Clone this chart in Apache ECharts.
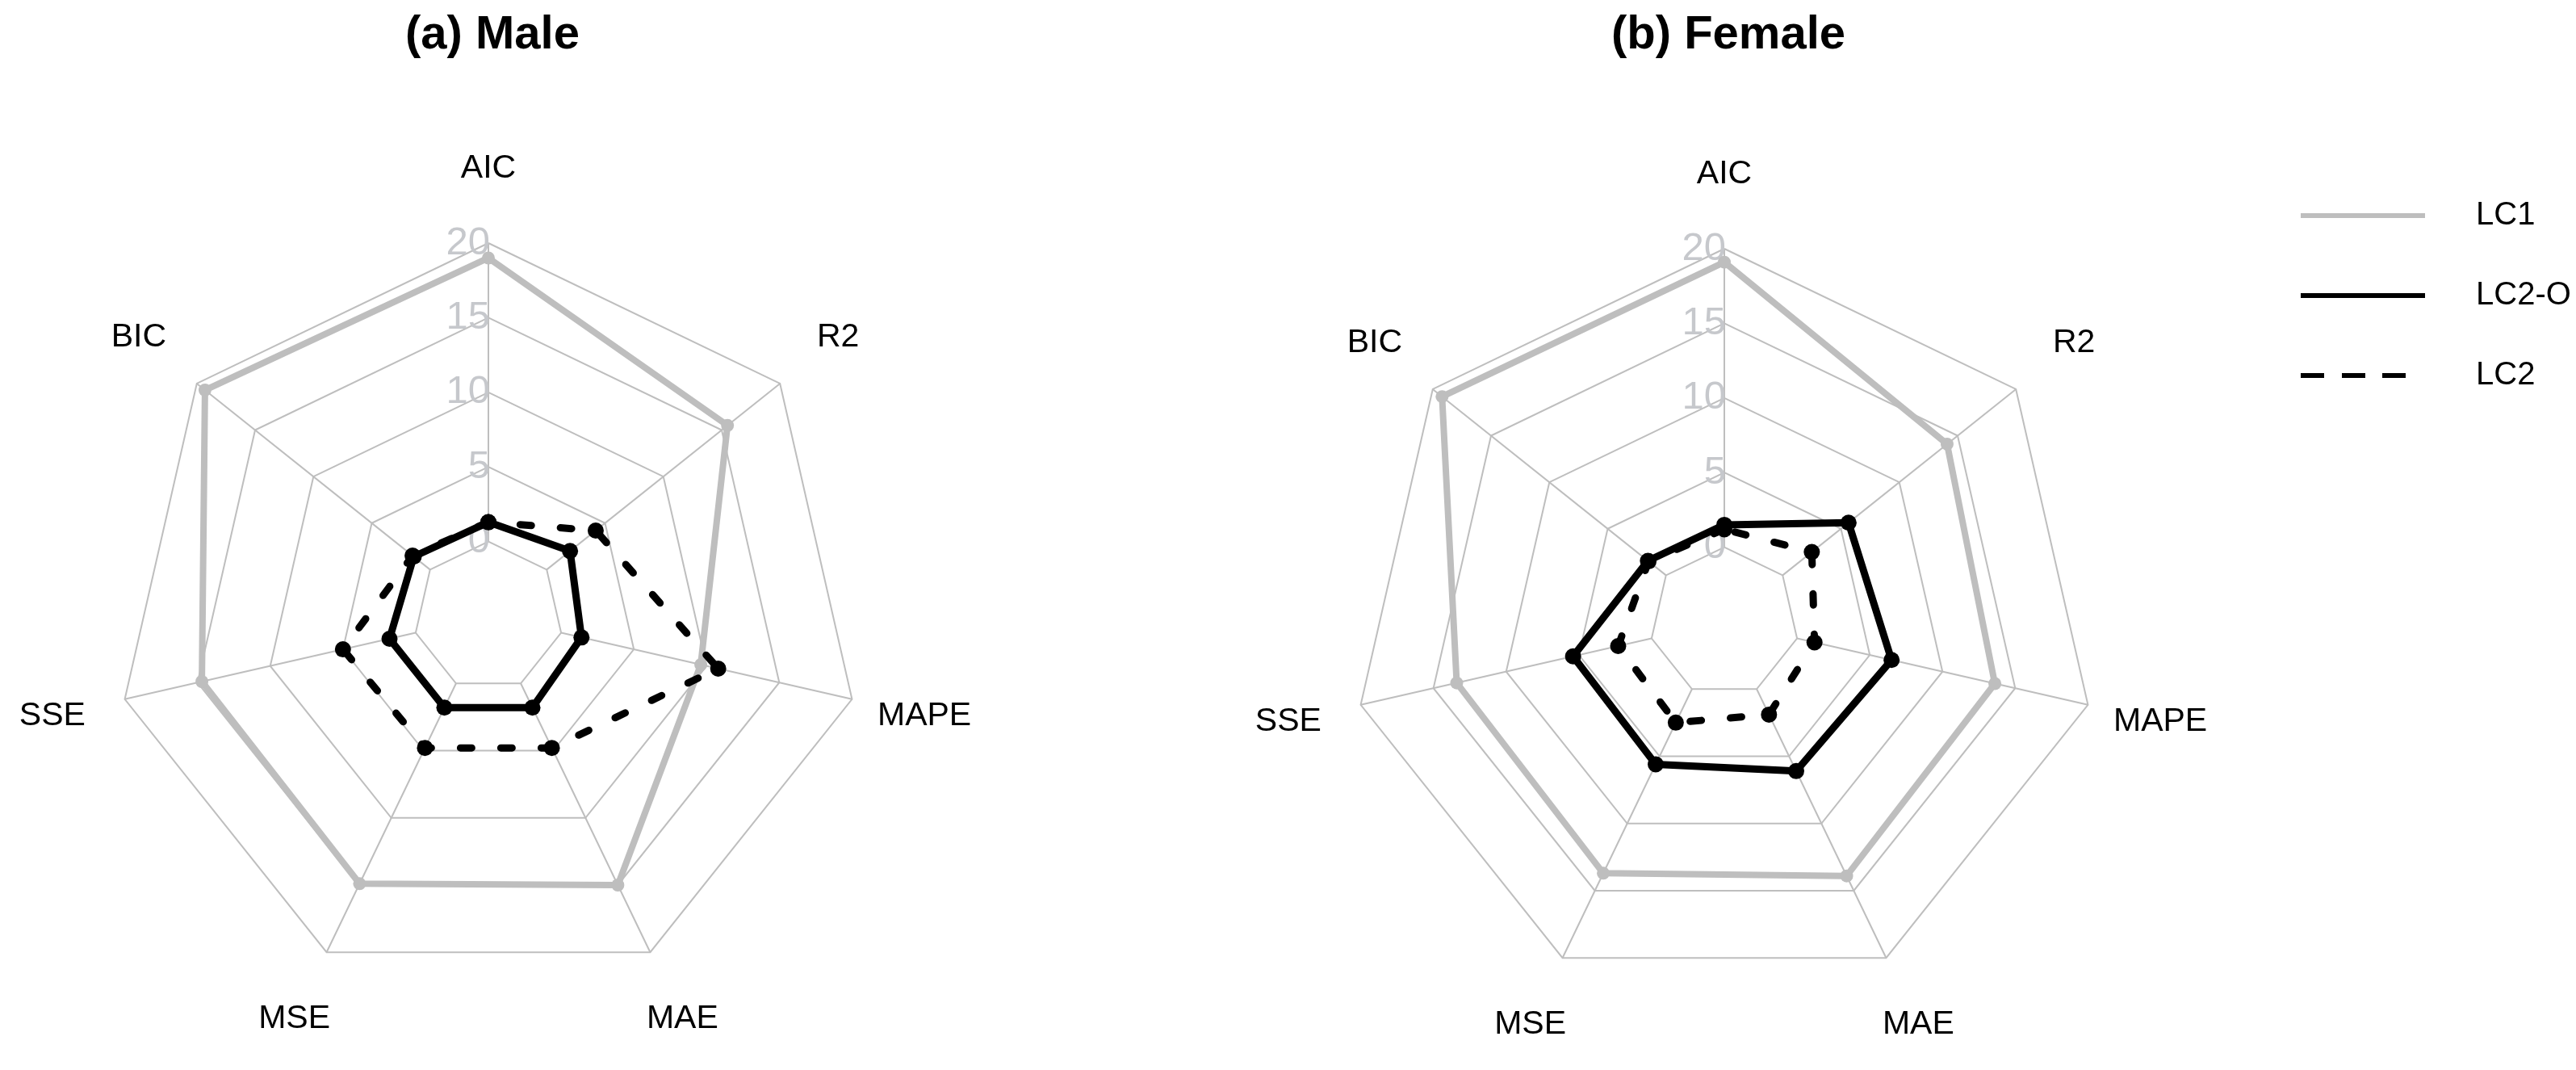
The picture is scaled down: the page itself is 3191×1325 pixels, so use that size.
<!DOCTYPE html>
<html>
<head>
<meta charset="utf-8">
<script src="https://cdn.jsdelivr.net/npm/echarts@6/dist/echarts.min.js"></script>
<style>
  html, body { margin: 0; padding: 0; background: #fff; }
  #main { width: 3191px; height: 1325px; }
</style>
</head>
<body>
<div id="main"></div>
<script>
// indicators, counter-clockwise from the top (fmsb order)
var indicatorNames = ['AIC', 'BIC', 'SSE', 'MSE', 'MAE', 'MAPE', 'R2'];
var seriesNames = ['LC1', 'LC2-O', 'LC2'];
var axisMin = -5;
var axisMax = 20;
var innerRing = 0;   // the empty centre of the fmsb plot ends at the "0" ring

var maleLC1  = [19.0, 19.3, 14.7, 14.9, 15.0, 9.6, 15.5];
var maleLC2O = [1.3, 1.4, 1.8, 1.8, 1.8, 1.4, 2.0];
var maleLC2  = [1.3, 1.5, 5.0, 4.8, 4.8, 10.8, 4.2];

var femaleLC1  = [19.1, 19.2, 13.4, 13.7, 13.9, 13.6, 14.1];
var femaleLC2O = [1.5, 1.55, 5.4, 5.6, 6.1, 6.5, 5.65];
var femaleLC2  = [1.2, 1.5, 2.3, 2.5, 1.9, 1.2, 2.5];

var FONT = '"Liberation Sans", Arial, sans-serif';
var GRID = '#bebebe';
var RADIUS = 462;

function buildIndicators() {
	var list = [];
	for (var i = 0; i < indicatorNames.length; i++) {
		var ind = { name: indicatorNames[i], min: axisMin, max: axisMax };
		if (i == 0) {
			// tick values only along the first (top) axis
			ind.axisLabel = {
				show: true,
				color: '#c6c8cc',
				fontSize: 49,
				fontFamily: FONT,
				margin: -2,
				formatter: function (v) { return v < 0 ? '' : String(v); }
			};
		}
		list.push(ind);
	}
	return list;
}

function buildRadar(center) {
	// spokes start at the "0" ring, so the centre stays empty
	var gap = RADIUS * (innerRing - axisMin) / (axisMax - axisMin);
	return {
		center: center,
		radius: RADIUS,
		startAngle: 90,
		shape: 'polygon',
		splitNumber: 5,
		indicator: buildIndicators(),
		axisNameGap: 92,
		axisName: {
			color: '#000',
			fontSize: 41,
			fontFamily: FONT,
			align: 'center',
			verticalAlign: 'middle'
		},
		axisLine: { lineStyle: { color: GRID, width: 2, type: [0, gap, RADIUS, 100], cap: 'butt' } },
		axisTick: { show: false },
		axisLabel: { show: false },
		splitLine: { lineStyle: { color: GRID, width: 2 } },
		splitArea: { show: false }
	};
}

function buildSeries(radarIndex, name, values, color, dashed) {
	return {
		type: 'radar',
		name: name,
		radarIndex: radarIndex,
		symbol: 'circle',
		symbolSize: color == '#000' ? 20 : 16,
		itemStyle: { color: color },
		lineStyle: {
			color: color,
			width: color == '#000' ? 9 : 8,
			type: dashed ? [14, 36] : 'solid',
			cap: 'round',
			join: 'round'
		},
		data: [{ name: name, value: values }]
	};
}

var SOLID_ICON = 'path://M0,0h154v6h-154z';
var DASH_ICON = 'path://M0,0h29v6h-29z M51,0h29v6h-29z M101,0h29v6h-29z M154,6';

var chartOption = {
	animation: false,
	backgroundColor: '#fff',
	title: [
		{
			text: '(a) Male', left: 605, top: 10, textAlign: 'center',
			textStyle: { fontSize: 58, fontWeight: 'bold', fontFamily: FONT, color: '#000' }
		},
		{
			text: '(b) Female', left: 2136, top: 10, textAlign: 'center',
			textStyle: { fontSize: 58, fontWeight: 'bold', fontFamily: FONT, color: '#000' }
		}
	],
	legend: {
		orient: 'vertical',
		left: 2845,
		top: 242,
		itemWidth: 154,
		itemHeight: 6,
		itemGap: 59,
		selectedMode: false,
		textStyle: { fontSize: 40, color: '#000', fontFamily: FONT, padding: [0, 0, 0, 58] },
		data: [
			{ name: seriesNames[0], icon: SOLID_ICON },
			{ name: seriesNames[1], icon: SOLID_ICON },
			{ name: seriesNames[2], icon: DASH_ICON }
		]
	},
	radar: [ buildRadar([605, 763]), buildRadar([2136, 770]) ],
	series: [
		buildSeries(0, seriesNames[0], maleLC1, '#bebebe', false),
		buildSeries(0, seriesNames[1], maleLC2O, '#000', false),
		buildSeries(0, seriesNames[2], maleLC2, '#000', true),
		buildSeries(1, seriesNames[0], femaleLC1, '#bebebe', false),
		buildSeries(1, seriesNames[1], femaleLC2O, '#000', false),
		buildSeries(1, seriesNames[2], femaleLC2, '#000', true)
	]
};

var myChart = echarts.init(document.getElementById('main'));
myChart.setOption(chartOption);
</script>
</body>
</html>
